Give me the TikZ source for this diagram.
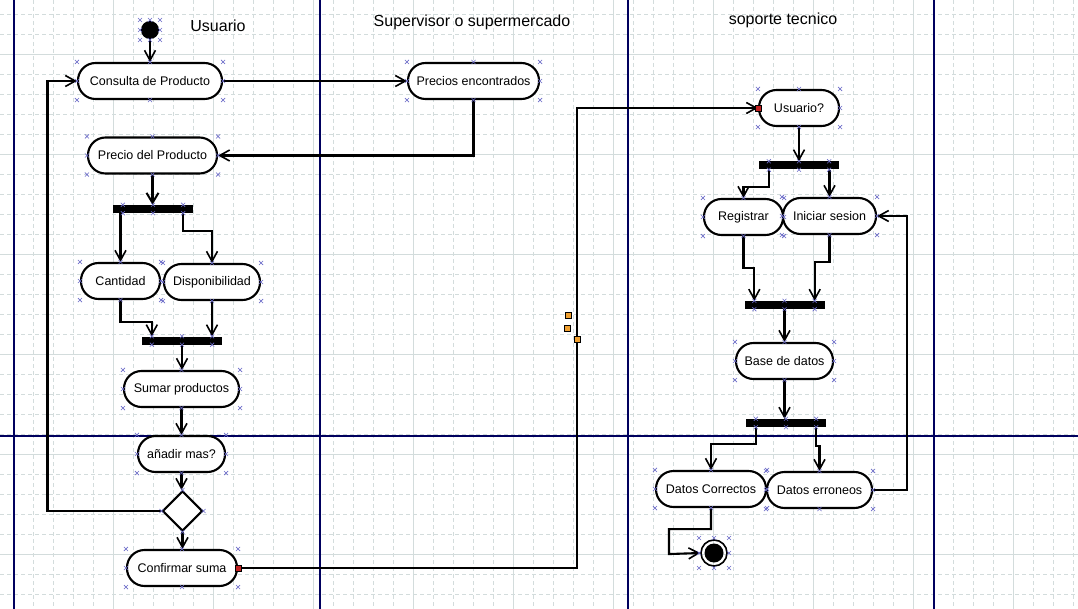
\documentclass[tikz,border=0pt]{standalone}
\usepackage{fontspec}
\setmainfont{Liberation Sans}
\usetikzlibrary{arrows.meta,calc,shapes.geometric}
\definecolor{gridc}{HTML}{D3DCDC}
\definecolor{lane}{HTML}{00005E}
\definecolor{xcol}{HTML}{6A6AC8}
\definecolor{handle}{HTML}{F0A030}
\definecolor{redh}{HTML}{C02020}
\newcommand\xmk[1]{\draw[xm] (#1) +(-2,-2) -- +(2,2) +(-2,2) -- +(2,-2);}
\begin{document}
\begin{tikzpicture}[x=1pt,y=-1pt,
 act/.style={draw,line width=2.1pt,rounded corners=17.5pt,minimum height=36pt,inner sep=0pt,fill=white,font=\fontsize{12.5}{14}\selectfont},
 bar/.style={fill=black,inner sep=0pt,minimum width=80pt,minimum height=8pt},
 arr/.style={line width=2.1pt,-{Straight Barb[length=10pt,width=11pt,line width=1.6pt]}},
 thickarr/.style={line width=3.8pt,-{Straight Barb[length=10pt,width=12pt,line width=2pt]}},
 lanetitle/.style={font=\fontsize{16}{18}\selectfont},
 xm/.style={xcol,line width=0.6pt},
 hnd/.style={fill=#1,draw=black,line width=0.6pt,minimum size=6pt,inner sep=0pt},
 ]
\useasboundingbox (0,0) rectangle (1078,609);
\fill[white] (0,0) rectangle (1078,609);
% grid
\foreach \x in {33,53,...,1073} \draw[gridc,line width=0.8pt,dash pattern=on 4pt off 3pt] (\x,0) -- (\x,609);
\foreach \y in {14,34,...,594} \draw[gridc,line width=0.8pt,dash pattern=on 4pt off 3pt] (0,\y) -- (1078,\y);
\foreach \x in {13,113,...,1013} \draw[gridc,line width=0.9pt] (\x,0) -- (\x,609);
\foreach \y in {54,154,...,554} \draw[gridc,line width=0.9pt] (0,\y) -- (1078,\y);
% lanes
\foreach \x in {14,320,628,934} \draw[lane,line width=1.2pt] (\x,0) -- (\x,609);
\draw[lane,line width=1.2pt] (0,436) -- (1078,436);
% titles
\node[lanetitle] (t1) at (218,26) {Usuario};
\node[lanetitle] (t2) at (472,22) {Supervisor o supermercado};
\node[lanetitle] (t3) at (783,20) {soporte tecnico};
% nodes
\node[circle,fill=black,minimum size=18pt,inner sep=0pt] (start) at (150,30) {};
\node[act,minimum width=144pt] (cons) at (150,81) {Consulta de Producto};
\node[act,minimum width=131pt] (prec) at (473.5,81) {Precios encontrados};
\node[act,minimum width=129pt] (pdp) at (152.5,155.5) {Precio del Producto};
\node[bar] (b1) at (153,209) {};
\node[act,minimum width=79pt] (cant) at (120.5,281) {Cantidad};
\node[act,minimum width=96pt] (disp) at (212,282) {Disponibilidad};
\node[bar] (b2) at (182,340.5) {};
\node[act,minimum width=115pt] (sum) at (181.5,389) {Sumar productos};
\node[act,minimum width=87pt] (mas) at (181.5,454) {añadir mas?};
\node[draw,diamond,line width=2.1pt,minimum size=40pt,inner sep=0pt,fill=white] (dec) at (182.5,511) {};
\node[act,minimum width=110pt] (conf) at (182,568) {Confirmar suma};
\node[act,minimum width=80pt] (usr) at (799,108) {Usuario?};
\node[bar] (b3) at (799,165.5) {};
\node[act,minimum width=79pt] (reg) at (743.5,217) {Registrar};
\node[act,minimum width=93pt] (ini) at (829.5,216) {Iniciar sesion};
\node[bar] (b4) at (784.5,305) {};
\node[act,minimum width=97pt] (base) at (784.5,361) {Base de datos};
\node[bar] (b5) at (786,423) {};
\node[act,minimum width=110pt] (dc) at (711,489) {Datos Correctos};
\node[act,minimum width=105pt] (de) at (819.5,490) {Datos erroneos};
\node[circle,draw,line width=1.6pt,minimum size=26pt,inner sep=0pt] (end) at (714,553) {};
\fill (end.center) circle (9.5pt);
% connectors
\draw[arr] (start.south) -- (start.south |- cons.north);
\draw[arr] (cons.east) -- (prec.west);
\draw[arr] (prec.south) |- (pdp.east);
\draw[thickarr] (pdp.south) -- (pdp.south |- b1.north);
\draw[arr] (b1.south -| cant.north) -- (cant.north);
\draw[arr] ($(b1.south east)+(-10,0)$) -- ++(0,18) -| (disp.north);
\draw[arr] (cant.south) -- ++(0,22) -| ($(b2.north west)+(10,0)$);
\draw[arr] (disp.south) -- (disp.south |- b2.north);
\draw[arr] (b2.south) -- (b2.south |- sum.north);
\draw[arr] (sum.south) -- (mas.north);
\draw[arr] (mas.south) -- (mas.south |- dec.north);
\draw[arr] (dec.south) -- (dec.south |- conf.north);
\draw[arr] (dec.west) -- ++(-114,0) |- (cons.west);
\draw[arr] (conf.east) -- ++(339,0) |- (usr.west);
\draw[arr] (usr.south) -- (usr.south |- b3.north);
\draw[arr] ($(b3.south west)+(10,0)$) -- ++(0,17) -| (reg.north);
\draw[arr] (b3.south -| ini.north) -- (ini.north);
\draw[arr] (reg.south) -- ++(0,32) -| ($(b4.north west)+(10,0)$);
\draw[arr] (ini.south) -- ++(0,27) -| ($(b4.north east)+(-10,0)$);
\draw[arr] (b4.south) -- (b4.south |- base.north);
\draw[arr] (base.south) -- (base.south |- b5.north);
\draw[arr] ($(b5.south west)+(10,0)$) -- ++(0,17) -| (dc.north);
\draw[arr] ($(b5.south east)+(-10,0)$) -- ++(0,19) -| (de.north);
\draw[arr] (de.east) -- ++(34,0) |- (ini.east);
\draw[arr] (dc.south) -- ++(0,21) -| ++(-42,25) -- (end.west);
% selection marks
\foreach \n in {cons,prec,pdp,cant,disp,sum,mas,conf,usr,reg,ini,base,dc,de}{
  \foreach \a in {north west,north,north east,east,south east,south,south west,west}{
    \xmk{\n.\a}
  }
}
\foreach \n in {b1,b2,b3,b4,b5}{
  \foreach \f in {0.125,0.5,0.875}{
    \xmk{$(\n.north west)!\f!(\n.north east)$}
    \xmk{$(\n.south west)!\f!(\n.south east)$}
  }
}
\foreach \a in {north,south,east,west} {\xmk{dec.\a}}
\foreach \dx/\dy in {-10/-10,0/-10,10/-10,-10/0,10/0,-10/10,0/10,10/10} {\xmk{$(start)+(\dx,\dy)$}}
\foreach \dx/\dy in {-15/-15,0/-15,15/-15,-15/0,15/0,-15/15,0/15,15/15} {\xmk{$(end)+(\dx,\dy)$}}
% handles
\node[hnd=redh] (r1) at (conf.east) {};
\node[hnd=redh] (r2) at (usr.west) {};
\node[hnd=handle] (h1) at (568,315) {};
\node[hnd=handle] (h2) at (567,328) {};
\node[hnd=handle] (h3) at (577,339) {};
\end{tikzpicture}
\end{document}
